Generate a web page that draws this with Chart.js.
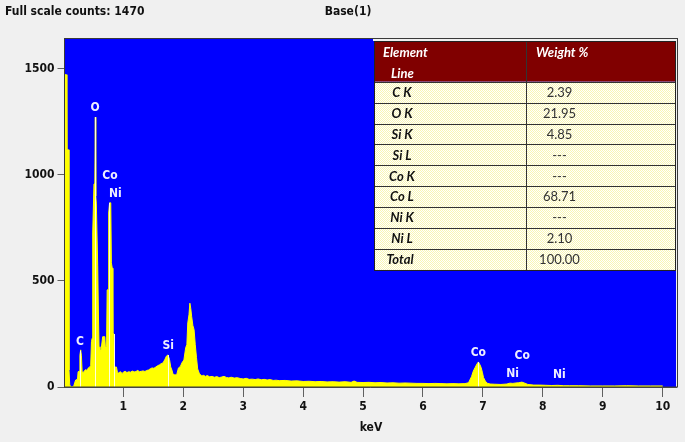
<!DOCTYPE html>
<html><head><meta charset="utf-8">
<script src="https://cdn.jsdelivr.net/npm/chart.js@4"></script>
<style>html,body{margin:0;padding:0;background:#f0f0f0;} canvas{display:block;}</style>
</head><body>
<canvas id="c" width="685" height="442"></canvas>
<script>
// ---- data ----
const energyKeV = [
  0.018, 0.05, 0.058, 0.085, 0.093, 0.105, 0.12, 0.17, 0.19, 0.205,
  0.235, 0.245, 0.262, 0.275, 0.288, 0.300, 0.312, 0.33, 0.35, 0.37,
  0.39, 0.41, 0.43, 0.455, 0.468, 0.48, 0.489, 0.51, 0.524, 0.532,
  0.540, 0.549, 0.572, 0.585, 0.594, 0.61, 0.63, 0.655, 0.69, 0.70,
  0.72, 0.73, 0.745, 0.755, 0.77, 0.79, 0.80, 0.815, 0.825, 0.84,
  0.85, 0.885, 0.90, 0.92, 0.95, 0.98, 1.00, 1.03, 1.06, 1.09,
  1.12, 1.15, 1.18, 1.21, 1.24, 1.27, 1.30, 1.33, 1.36, 1.39,
  1.42, 1.45, 1.48, 1.51, 1.54, 1.57, 1.60, 1.63, 1.66, 1.69,
  1.72, 1.745, 1.77, 1.79, 1.81, 1.83, 1.86, 1.89, 1.92, 1.95,
  1.98, 2.01, 2.04, 2.06, 2.075, 2.095, 2.11, 2.125, 2.14, 2.16,
  2.18, 2.20, 2.22, 2.24, 2.27, 2.31, 2.34, 2.37, 2.40, 2.44,
  2.48, 2.52, 2.56, 2.60, 2.64, 2.68, 2.72, 2.76, 2.80, 2.85,
  2.90, 2.95, 3.00, 3.05, 3.10, 3.15, 3.20, 3.25, 3.30, 3.35,
  3.40, 3.45, 3.50, 3.55, 3.60, 3.70, 3.80, 3.90, 4.00, 4.10,
  4.20, 4.30, 4.40, 4.50, 4.60, 4.70, 4.80, 4.85, 4.90, 5.00,
  5.10, 5.20, 5.30, 5.40, 5.50, 5.60, 5.70, 5.80, 5.90, 6.00,
  6.10, 6.20, 6.30, 6.40, 6.50, 6.60, 6.70, 6.76, 6.81, 6.84,
  6.87, 6.90, 6.925, 6.95, 6.97, 6.99, 7.01, 7.04, 7.07, 7.12,
  7.20, 7.30, 7.40, 7.45, 7.50, 7.55, 7.60, 7.65, 7.70, 7.75,
  7.85, 7.95, 8.05, 8.15, 8.25, 8.35, 8.45, 8.60, 8.80, 9.00,
  9.20, 9.40, 9.60, 9.80, 10.00
];
const counts = [
  1472, 1472, 1118, 1118, 80, 12, 0, 2, 22, 33,
  36, 72, 74, 150, 175, 150, 72, 68, 76, 82,
  78, 88, 92, 100, 214, 230, 726, 957, 960, 1272,
  900, 867, 571, 330, 190, 165, 178, 237, 237, 190,
  190, 457, 460, 820, 868, 868, 585, 560, 255, 250,
  94, 94, 71, 66, 72, 64, 70, 74, 68, 72,
  70, 75, 71, 73, 78, 72, 74, 76, 73, 78,
  80, 86, 90, 88, 94, 100, 104, 110, 113, 128,
  146, 151, 130, 95, 80, 60, 57, 58, 90, 96,
  115, 127, 185, 200, 302, 340, 395, 370, 332, 290,
  270, 200, 140, 85, 62, 52, 55, 50, 54, 48,
  50, 46, 49, 44, 47, 50, 45, 43, 46, 42,
  44, 40, 38, 41, 36, 37, 35, 38, 34, 36,
  33, 35, 31, 32, 30, 31, 28, 29, 26, 27,
  25, 26, 24, 25, 23, 25, 22, 28, 22, 21,
  22, 20, 21, 19, 20, 18, 19, 18, 17, 17,
  16, 17, 16, 15, 16, 15, 16, 20, 49, 75,
  92, 108, 118, 105, 92, 70, 45, 28, 18, 14,
  13, 12, 14, 18, 17, 19, 20, 23, 18, 12,
  9, 9, 8, 7, 8, 6, 6, 6, 5, 5,
  5, 6, 5, 5, 5
];
const yTicks = [0, 500, 1000, 1500];
const xTicks = [1, 2, 3, 4, 5, 6, 7, 8, 9, 10];
const peakLabels     = ['O',   'Co',  'Ni',  'C',   'Si', 'Co',  'Co',  'Ni',  'Ni'];
const peakLabelKeV   = [0.527, 0.778, 0.866, 0.277, 1.75, 6.923, 7.657, 7.497, 8.275];
const peakLabelCount = [1316,  995,   910,   212,   193,  160,   146,   61,    57];
const markerKeV   = [0.277, 0.532, 0.76, 0.84, 1.745, 6.925];
const markerCount = [171,   1272,  868,  250,  151,   118];
const tableElements = ['C K', 'O K', 'Si K', 'Si L', 'Co K', 'Co L', 'Ni K', 'Ni L', 'Total'];
const tableWeights  = ['2.39', '21.95', '4.85', '---', '---', '68.71', '---', '2.10', '100.00'];
const tableHeader = ['Element', 'Line', 'Weight %'];
const titleLeft = 'Full scale counts: 1470';
const titleCenter = 'Base(1)';
const xTitle = 'keV';

const UIFONT = '"DejaVu Sans Condensed", "DejaVu Sans", sans-serif';

// dotted pale-yellow cell pattern
const pc = document.createElement('canvas'); pc.width = 2; pc.height = 2;
const pctx = pc.getContext('2d');
pctx.fillStyle = '#ffffff'; pctx.fillRect(0, 0, 2, 2);
pctx.fillStyle = '#f9f6b4'; pctx.fillRect(0, 0, 1, 1); pctx.fillRect(1, 1, 1, 1);

const decor = {
  id: 'decor',
  beforeDraw(chart) {
    const { ctx, chartArea: a } = chart;
    ctx.save();
    ctx.fillStyle = '#f0f0f0';
    ctx.fillRect(0, 0, chart.width, chart.height);
    ctx.fillStyle = '#0000ff';
    ctx.fillRect(a.left, a.top, a.right - a.left, a.bottom - a.top);
    ctx.restore();
  },
  afterDatasetsDraw(chart) {
    const { ctx, scales: { x, y } } = chart;
    ctx.save();
    ctx.strokeStyle = 'rgba(255,255,235,0.95)';
    ctx.lineWidth = 1;
    markerKeV.forEach((e, i) => {
      const px = Math.round(x.getPixelForValue(e)) + 0.5;
      ctx.beginPath();
      ctx.moveTo(px, y.getPixelForValue(0));
      ctx.lineTo(px, y.getPixelForValue(markerCount[i]));
      ctx.stroke();
    });
    ctx.fillStyle = '#eeeeff';
    ctx.font = 'bold 12px ' + UIFONT;
    ctx.textAlign = 'center';
    ctx.textBaseline = 'middle';
    peakLabels.forEach((t, i) => {
      ctx.fillText(t, x.getPixelForValue(peakLabelKeV[i]), y.getPixelForValue(peakLabelCount[i]));
    });
    ctx.restore();
  },
  afterDraw(chart) {
    const { ctx, chartArea: a } = chart;
    ctx.save();
    // plot frame
    ctx.strokeStyle = '#3a3a3a';
    ctx.lineWidth = 1;
    ctx.strokeRect(Math.round(a.left) - 0.5, Math.round(a.top) + 0.5, Math.round(a.right - a.left) + 1, Math.round(a.bottom - a.top) - 0.5);

    // titles
    ctx.fillStyle = '#111';
    ctx.font = 'bold 12px ' + UIFONT;
    ctx.textBaseline = 'middle';
    ctx.textAlign = 'left';
    ctx.fillText(titleLeft, 5, 12);
    ctx.textAlign = 'center';
    ctx.fillText(titleCenter, 348, 12);
    ctx.fillText(xTitle, 371, 428);

    // table
    const x0 = 374, x1 = 525.5, x2 = 676, top = 41, hb = 81.7, rh = 20.92;
    const bottom = hb + rh * tableElements.length;
    ctx.fillStyle = '#f0f0f0';
    ctx.fillRect(373, Math.round(a.top) + 1, x2 - 373 + 1, top - Math.round(a.top) - 1);
    ctx.fillStyle = '#800000';
    ctx.fillRect(x0, top, x2 - x0, hb - top);
    ctx.fillStyle = ctx.createPattern(pc, 'repeat');
    ctx.fillRect(x0, hb, x2 - x0, bottom - hb);
    ctx.strokeStyle = '#333';
    ctx.lineWidth = 1;
    ctx.beginPath();
    for (let i = 1; i < tableElements.length; i++) {
      const yy = Math.round(hb + rh * i) + 0.5;
      ctx.moveTo(x0, yy); ctx.lineTo(x2, yy);
    }
    ctx.moveTo(x0, Math.round(hb) + 0.5); ctx.lineTo(x2, Math.round(hb) + 0.5);
    ctx.moveTo(Math.round(x1) + 0.5, top); ctx.lineTo(Math.round(x1) + 0.5, bottom);
    ctx.stroke();
    ctx.strokeStyle = '#222';
    ctx.strokeRect(x0 + 0.5, top + 0.5, x2 - x0 - 1, Math.round(bottom - top));

    ctx.fillStyle = '#ffffff';
    ctx.font = 'italic bold 13px Lato, sans-serif';
    ctx.textAlign = 'left';
    ctx.fillText(tableHeader[0], 383, 52.5);
    ctx.fillText(tableHeader[1], 391, 73.5);
    ctx.fillText(tableHeader[2], 536, 52.5);

    tableElements.forEach((t, i) => {
      const cy = hb + rh * (i + 0.5) + 0.5;
      ctx.fillStyle = '#111';
      ctx.font = 'italic bold 13px Lato, sans-serif';
      ctx.textAlign = 'center';
      ctx.fillText(t, i === tableElements.length - 1 ? 400 : 402, cy);
      ctx.fillStyle = '#333';
      ctx.font = '13px Lato, sans-serif';
      ctx.fillText(tableWeights[i], 559.5, cy);
    });
    ctx.restore();
  }
};

new Chart(document.getElementById('c'), {
  type: 'line',
  data: {
    datasets: [{
      data: energyKeV.map((e, i) => ({ x: e, y: counts[i] })),
      fill: 'origin',
      backgroundColor: '#ffff00',
      borderColor: '#ffff00',
      borderWidth: 1,
      pointRadius: 0,
      tension: 0
    }]
  },
  options: {
    responsive: false,
    animation: false,
    events: [],
    layout: { padding: { left: 0, right: 9, top: 38, bottom: 0 } },
    plugins: { legend: { display: false }, tooltip: { enabled: false } },
    scales: {
      x: {
        type: 'linear', min: 0.018, max: 10.222,
        afterBuildTicks: s => { s.ticks = xTicks.map(v => ({ value: v })); },
        afterFit: s => { s.height = 55; },
        grid: { display: true, drawOnChartArea: false, drawTicks: true, tickLength: 10, color: '#606060' },
        border: { display: true, color: '#505050' },
        ticks: { font: { family: UIFONT, weight: 'bold', size: 12 }, color: '#111', padding: 3, maxRotation: 0, autoSkip: false, callback: v => String(v) }
      },
      y: {
        type: 'linear', min: 0, max: 1645,
        afterBuildTicks: s => { s.ticks = yTicks.map(v => ({ value: v })); },
        afterFit: s => { s.width = 64.5; },
        grid: { display: true, drawOnChartArea: false, drawTicks: true, tickLength: 7, color: '#606060' },
        border: { display: true, color: '#505050' },
        ticks: { font: { family: UIFONT, weight: 'bold', size: 12 }, color: '#111', padding: 3, autoSkip: false, callback: v => String(v) }
      }
    }
  },
  plugins: [decor]
});
</script>
</body></html>
